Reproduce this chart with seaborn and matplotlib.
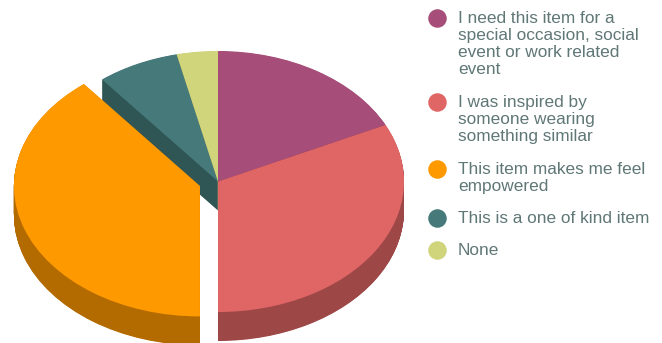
import numpy as np
import matplotlib
matplotlib.use("Agg")
import matplotlib.pyplot as plt
import seaborn as sns

# Survey responses
labels = [
    "I need this item for a\nspecial occasion, social\nevent or work related\nevent",
    "I was inspired by\nsomeone wearing\nsomething similar",
    "This item makes me feel\nempowered",
    "This is a one of kind item",
    "None",
]
counts = [5, 9, 11, 2, 1]
hex_colors = ["#A64D79", "#E06666", "#FF9900", "#45797A", "#D0D47A"]

W, H = 662, 343
CX, CY = 218, 181.5      # pie centre, pixels from top-left
RX, RY = 186, 130.5      # ellipse radii, pixels
DEPTH = 29               # rim height, pixels
LAYERS = 58
EXPLODED = 2             # index of the pulled-out slice
PULL = 0.103

sns.set_theme(style="white")
plt.rcParams["font.family"] = ["Liberation Sans", "DejaVu Sans"]

palette = sns.color_palette(hex_colors)
rim = [tuple(np.array(c) * 0.7) for c in palette]

fig = plt.figure(figsize=(W / 100, H / 100), dpi=100)
ax = fig.add_axes([0, 0, 1, 1])


def draw_disc(values, colors, explode, drop):
    """One elliptical pie layer, lowered by `drop` pixels."""
    ax.pie(values, colors=colors, explode=explode, radius=1.0,
           startangle=90, counterclock=False, center=(0, -drop / RY),
           frame=True, wedgeprops={"linewidth": 0})


drops = np.linspace(DEPTH, 0, LAYERS + 1)
explode = [PULL if i == EXPLODED else 0 for i in range(len(counts))]

# Everything but the pulled-out slice, drawn bottom-up
rest_colors = [c if i != EXPLODED else (0, 0, 0, 0) for i, c in enumerate(rim)]
rest_top = [c if i != EXPLODED else (0, 0, 0, 0) for i, c in enumerate(palette)]
for d in drops[:-1]:
    draw_disc(counts, rest_colors, explode, d)
draw_disc(counts, rest_top, explode, 0)

# The pulled-out slice sits above the others
only_rim = [c if i == EXPLODED else (0, 0, 0, 0) for i, c in enumerate(rim)]
only_top = [c if i == EXPLODED else (0, 0, 0, 0) for i, c in enumerate(palette)]
for d in drops[:-1]:
    draw_disc(counts, only_rim, explode, d)
draw_disc(counts, only_top, explode, 0)

ax.set_aspect("auto")
ax.set_xlim(-CX / RX, (W - CX) / RX)
ax.set_ylim(-(H - CY) / RY, CY / RY)
ax.axis("off")

# Legend in a pixel-scaled overlay
lax = fig.add_axes([0, 0, 1, 1], facecolor="none")
lax.set_xlim(0, W)
lax.set_ylim(H, 0)
lax.axis("off")

y = 18.0
for label, color in zip(labels, palette):
    lax.scatter([437], [y], s=178, color=[color], linewidths=0, zorder=3)
    lax.text(458, y - 7.0, label, fontsize=12.45, color="#5F7775",
             va="top", ha="left", linespacing=1.16)
    y += label.count("\n") * 17.4 + 32.0

fig.savefig("out.png", dpi=100)
